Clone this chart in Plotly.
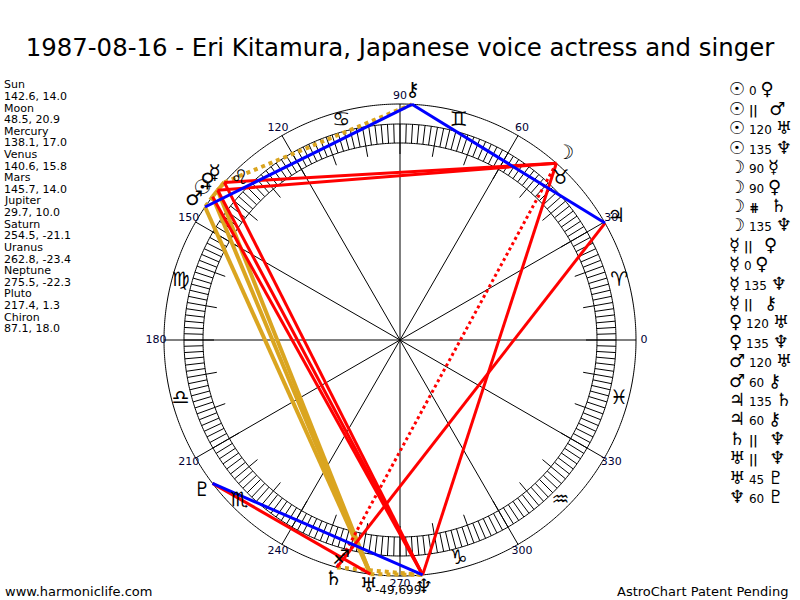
import numpy as np
import plotly.graph_objects as go

# Natal data, 1987-08-16
planets = ["Sun", "Moon", "Mercury", "Venus", "Mars", "Jupiter", "Saturn",
           "Uranus", "Neptune", "Pluto", "Chiron"]
glyphs = ["☉", "☽", "☿", "♀", "♂", "♃", "♄", "♅", "♆", "♇", "⚷"]
longitudes = [142.6, 48.5, 138.1, 140.6, 145.7, 29.7, 254.5, 262.8, 275.5, 217.4, 87.1]
latitudes = [14.0, 20.9, 17.0, 15.8, 14.0, 10.0, -21.1, -23.4, -22.3, 1.3, 18.0]

signs = ["♈", "♉", "♊", "♋", "♌", "♍", "♎", "♏", "♐", "♑", "♒", "♓"]
sign_mid = [15, 45, 75, 105, 135, 165, 195, 225, 255, 285, 315, 345]
degree_ticks = [0, 30, 60, 90, 120, 150, 180, 210, 240, 270, 300, 330]

aspect_from = ["Sun", "Sun", "Sun", "Sun", "Moon", "Moon", "Moon", "Moon",
               "Mercury", "Mercury", "Mercury", "Mercury", "Venus", "Venus",
               "Mars", "Mars", "Jupiter", "Jupiter", "Saturn", "Uranus",
               "Uranus", "Neptune"]
aspect_kind = ["0", "par", "120", "135", "90", "90", "contra", "135",
               "par", "0", "135", "par", "120", "135",
               "120", "60", "135", "60", "par", "par",
               "45", "60"]
aspect_to = ["Venus", "Mars", "Uranus", "Neptune", "Mercury", "Venus", "Saturn", "Neptune",
             "Venus", "Venus", "Neptune", "Chiron", "Uranus", "Neptune",
             "Uranus", "Chiron", "Saturn", "Chiron", "Neptune", "Neptune",
             "Pluto", "Pluto"]

title_text = "1987-08-16 - Eri Kitamura, Japanese voice actress and singer"
footer_left = "www.harmoniclife.com"
footer_right = "AstroChart Patent Pending"
bottom_note = "-49,699"

W, H = 800, 600
CX, CY = 400, 340
R = 236        # outer circle, aspect lines end here
RMAX = 258     # radial range, 1 unit = 1 px
FONT = "DejaVu Sans"

GOLD = "#DAA520"
RED = "#FF0000"
BLUE = "#0000FF"
styles = {
    "0": (GOLD, "solid", 4),
    "120": (GOLD, "solid", 4),
    "par": (GOLD, "dot", 4),
    "90": (RED, "solid", 3),
    "135": (RED, "solid", 3),
    "45": (RED, "solid", 3),
    "contra": (RED, "dot", 3),
    "60": (BLUE, "solid", 3),
}
list_symbol = {"par": "<b>||</b>", "contra": "<b>⋕</b>"}

lon = dict(zip(planets, longitudes))
glyph = dict(zip(planets, glyphs))

fig = go.Figure()


def thin(r, theta):
    fig.add_trace(go.Scatterpolar(r=r, theta=theta, mode="lines",
                                  line=dict(color="black", width=1), hoverinfo="skip"))


# circles
ring = np.arange(0, 360.5, 0.5)
for rr in (197, 216, R):
    thin([rr] * len(ring), ring)

# spokes every 30 degrees, band ticks, longer ticks every 10 degrees
tr, tt = [], []
for a in degree_ticks:
    tr += [0, R, None]
    tt += [a, a, None]
for a in np.arange(0, 360, 10 / 6):
    tr += [197, 216, None]
    tt += [a, a, None]
for a in range(0, 360, 10):
    tr += [186, 197, None]
    tt += [a, a, None]
thin(tr, tt)

# aspect lines, gold then red then blue
for colour in (GOLD, RED, BLUE):
    for p1, k, p2 in zip(aspect_from, aspect_kind, aspect_to):
        c, dash, w = styles[k]
        if c != colour:
            continue
        fig.add_trace(go.Scatterpolar(r=[R, R], theta=[lon[p1], lon[p2]], mode="lines",
                                      line=dict(color=c, dash=dash, width=w),
                                      hoverinfo="skip"))

# degree labels
fig.add_trace(go.Scatterpolar(r=[244] * len(degree_ticks), theta=degree_ticks, mode="text",
                              text=[str(d) for d in degree_ticks],
                              textfont=dict(size=11, color="#000033", family=FONT),
                              cliponaxis=False, hoverinfo="skip"))

# zodiac signs
fig.add_trace(go.Scatterpolar(r=[227] * 12, theta=sign_mid, mode="text", text=signs,
                              textfont=dict(size=20, color="black", family=FONT),
                              cliponaxis=False, hoverinfo="skip"))

# planet glyphs
fig.add_trace(go.Scatterpolar(r=[249] * len(planets), theta=longitudes, mode="text",
                              text=glyphs, textfont=dict(size=20, color="black", family=FONT),
                              cliponaxis=False, hoverinfo="skip"))

ann = []
# planet list on the left
for i, (name, lo, la) in enumerate(zip(planets, longitudes, latitudes)):
    for j, txt in enumerate([name, f"{lo:.1f}, {la:.1f}"]):
        y = 85 + 11.6 * (2 * i + j)
        ann.append(dict(x=2 / W, y=1 - y / H, xref="paper", yref="paper", text=txt,
                        showarrow=False, xanchor="left", yanchor="middle",
                        font=dict(size=11, color="black", family=FONT)))

# aspect list on the right
for i, (p1, k, p2) in enumerate(zip(aspect_from, aspect_kind, aspect_to)):
    sym = list_symbol.get(k, k)
    gap = "   " if k in ("par", "contra") else " "
    txt = (f"<span style='font-size:18px'>{glyph[p1]}</span> "
           f"<span style='font-size:12px'>{sym}</span>{gap}"
           f"<span style='font-size:18px'>{glyph[p2]}</span>")
    y = 89 + 19.4 * i
    ann.append(dict(x=727 / W, y=1 - y / H, xref="paper", yref="paper", text=txt,
                    showarrow=False, xanchor="left", yanchor="middle",
                    font=dict(size=12, color="black", family=FONT)))

ann.append(dict(x=3 / W, y=1 - 591 / H, xref="paper", yref="paper", text=footer_left,
                showarrow=False, xanchor="left", yanchor="middle",
                font=dict(size=13, color="black", family=FONT)))
ann.append(dict(x=790 / W, y=1 - 591 / H, xref="paper", yref="paper", text=footer_right,
                showarrow=False, xanchor="right", yanchor="middle",
                font=dict(size=13, color="black", family=FONT)))
ann.append(dict(x=398 / W, y=1 - 590 / H, xref="paper", yref="paper", text=bottom_note,
                showarrow=False, xanchor="center", yanchor="middle",
                font=dict(size=12, color="black", family=FONT)))

fig.update_layout(
    width=W, height=H,
    margin=dict(l=0, r=0, t=0, b=0),
    paper_bgcolor="white",
    showlegend=False,
    font=dict(family=FONT, color="black"),
    title=dict(text=title_text, x=0.5, xanchor="center", y=1 - 47 / H, yanchor="middle",
               font=dict(size=24.4, color="black", family=FONT)),
    polar=dict(
        domain=dict(x=[(CX - RMAX) / W, (CX + RMAX) / W],
                    y=[(H - CY - RMAX) / H, (H - CY + RMAX) / H]),
        bgcolor="white",
        radialaxis=dict(range=[0, RMAX], visible=False),
        angularaxis=dict(rotation=0, direction="counterclockwise", visible=False),
    ),
    annotations=ann,
)

# page body has an 8px default margin; drop it so the figure sits at the window corner
fig.write_html("out.html", config={"displayModeBar": False},
               post_script="document.body.style.margin='0';")
